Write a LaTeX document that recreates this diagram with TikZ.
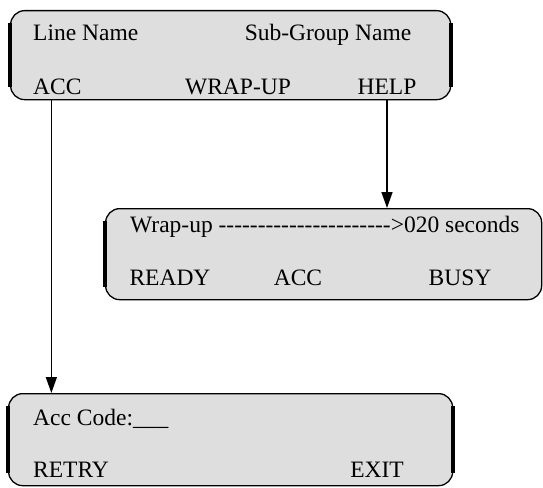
\documentclass[tikz,border=0pt]{standalone}
\usepackage{fontspec}
\setmainfont{Liberation Serif}[Ligatures=TeXOff]
\usetikzlibrary{positioning, arrows.meta}
\definecolor{panelgray}{HTML}{DEDEDE}

\begin{document}
\begin{tikzpicture}[x=1pt, y=-1pt, >={Triangle[length=16pt, width=11pt]},
    panel/.style={draw, fill=panelgray, rounded corners=14pt, line width=1.3pt, anchor=north west, inner sep=0pt},
    edge/.style={line width=4pt},
    lbl/.style={inner sep=0pt, font=\fontsize{23.5}{27}\selectfont}]
    \useasboundingbox (0,0) rectangle (543,487);

    \node[panel, minimum width=440pt, minimum height=89pt] (main) at (10,10) {};
    \node[panel, minimum width=436pt, minimum height=91pt] (wrapbox) at (105,208) {};
    \node[panel, minimum width=444pt, minimum height=92pt] (codebox) at (8,393) {};

    \draw[edge] ([yshift=-13pt]main.north west) -- ([yshift=13pt]main.south west);
    \draw[edge] ([yshift=-13pt]main.north east) -- ([yshift=13pt]main.south east);
    \draw[edge] ([yshift=-13pt]wrapbox.north west) -- ([yshift=13pt]wrapbox.south west);
    \draw[edge] ([yshift=-13pt]codebox.north west) -- ([yshift=13pt]codebox.south west);
    \draw[edge] ([yshift=-13pt]codebox.north east) -- ([yshift=13pt]codebox.south east);

    \node[lbl, anchor=base west] (line) at (33,41) {Line Name};
    \node[lbl, anchor=base] (sub) at (328,41) {Sub-Group Name};
    \node[lbl, anchor=base west] (acc) at (33,94) {ACC};
    \node[lbl, anchor=base] (wrapup) at (238,94) {WRAP-UP};
    \node[lbl, anchor=base] (help) at (387,94) {HELP};

    \node[lbl, anchor=base west] (wrap) at (130,232) {Wrap-up ---------------------->020 seconds};
    \node[lbl, anchor=base] (ready) at (170,285) {READY};
    \node[lbl, anchor=base] (acc2) at (298,285) {ACC};
    \node[lbl, anchor=base] (busy) at (460,285) {BUSY};

    \node[lbl, anchor=base west] (code) at (33,425) {Acc Code:\_\_\_};
    \node[lbl, anchor=base west] (retry) at (33,477) {RETRY};
    \node[lbl, anchor=base] (exit) at (377,477) {EXIT};

    \coordinate (accdrop) at ([xshift=-6pt]acc.south);
    \draw[->, line width=1.5pt] (accdrop |- main.south) -- (accdrop |- codebox.north);
    \draw[->, line width=1.5pt] (help |- main.south) -- (help |- wrapbox.north);
\end{tikzpicture}
\end{document}
